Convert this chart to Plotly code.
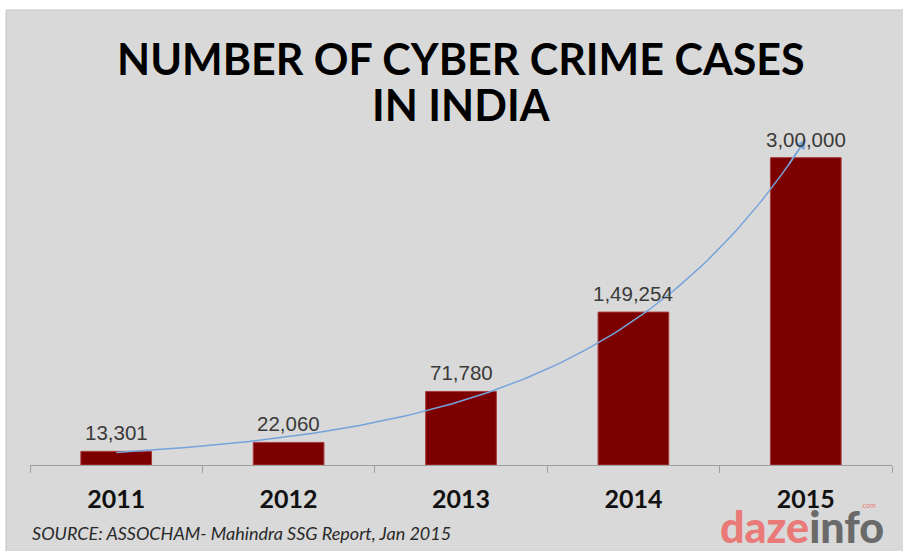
import numpy as np
import plotly.graph_objects as go

years = ["2011", "2012", "2013", "2014", "2015"]
cases = [13301, 22060, 71780, 149254, 300000]
labels = ["13,301", "22,060", "71,780", "1,49,254", "3,00,000"]
title_lines = ["NUMBER OF CYBER CRIME CASES", "IN INDIA"]
source = "SOURCE: ASSOCHAM- Mahindra SSG Report, Jan 2015"

W, H = 903, 551
L, R, T, B = 30, 11, 130, 86
pw, ph = W - L - R, H - T - B
YMAX = 327000

# exponential trendline fitted to the data
idx = np.arange(len(cases))
slope, icpt = np.polyfit(idx, np.log(cases), 1)
tx = np.linspace(0, 4, 120)
ty = np.exp(icpt + slope * tx)

fig = go.Figure()
fig.add_trace(go.Bar(
    x=years, y=cases, width=0.41,
    marker=dict(color="#7d0000", line=dict(color="#a83a3a", width=1)),
    hoverinfo="skip",
))
fig.add_trace(go.Scatter(
    x=tx, y=ty, xaxis="x2", mode="lines",
    line=dict(color="#74a3db", width=1.5), hoverinfo="skip",
))

ann = []
# arrowhead at the end of the trendline
ann.append(dict(x=float(tx[-1]), y=float(ty[-1]), xref="x2", yref="y",
                ax=float(tx[-4]), ay=float(ty[-4]), axref="x2", ayref="y",
                showarrow=True, arrowhead=2, arrowsize=1.3, arrowwidth=1.5,
                arrowcolor="#74a3db", text=""))
for i, v, lab in zip(idx, cases, labels):
    ann.append(dict(x=int(i), y=v, xref="x2", yref="y", text=lab, showarrow=False,
                    yanchor="bottom", yshift=5,
                    font=dict(family="Liberation Sans", size=20.5, color="#3a3a3a")))

def py(pix):
    return (H - B - pix) / ph

def px(pix):
    return (pix - L) / pw

ann.append(dict(x=0.5, y=py(58), xref="paper", yref="paper", text=title_lines[0],
                showarrow=False, yanchor="middle",
                font=dict(family="Lato", size=43, color="#000000", weight=700)))
ann.append(dict(x=0.5, y=py(104), xref="paper", yref="paper", text=title_lines[1],
                showarrow=False, yanchor="middle",
                font=dict(family="Lato", size=43, color="#000000", weight=700)))
ann.append(dict(x=px(30), y=py(533), xref="paper", yref="paper",
                text="<i>" + source + "</i>", showarrow=False, xanchor="left",
                yanchor="middle", font=dict(family="Lato", size=18, color="#2a2a2a")))
ann.append(dict(x=px(885), y=py(526), xref="paper", yref="paper",
                text="<span style='color:#e97a78'>daz</span><span style='color:#e97a78'>e</span><span style='color:#6a6a6a'>info</span>",
                showarrow=False, xanchor="right", yanchor="middle", borderpad=0,
                font=dict(family="Lato", size=43, weight=900)))
ann.append(dict(x=px(868), y=py(505), xref="paper", yref="paper", text=".com",
                showarrow=False, xanchor="center", yanchor="middle", borderpad=0,
                font=dict(family="Lato", size=7, color="#e97a78")))

fig.update_layout(
    width=W, height=H,
    margin=dict(l=L, r=R, t=T, b=B, pad=0),
    paper_bgcolor="#ffffff", plot_bgcolor="rgba(0,0,0,0)",
    showlegend=False,
    bargap=0.59,
    xaxis=dict(type="category", range=[-0.5, 4.5], showgrid=False,
               showline=True, linecolor="#a0a0a0", linewidth=1.2,
               ticks="outside", tickson="boundaries", ticklen=7, tickcolor="#a0a0a0",
               tickfont=dict(family="Lato", size=25, color="#111111", weight=700),
               ticklabelstandoff=12, fixedrange=True),
    xaxis2=dict(overlaying="x", range=[-0.5, 4.5], visible=False, fixedrange=True),
    yaxis=dict(range=[0, YMAX], visible=False, showgrid=False, fixedrange=True),
    annotations=ann,
    shapes=[dict(type="rect", xref="paper", yref="paper", layer="below",
                 x0=px(6), x1=px(W + 2), y0=py(H + 2), y1=py(10),
                 fillcolor="#d9d9d9", line=dict(color="#c6c6c6", width=1))],
)

fig.write_html("out.html", config={"displayModeBar": False},
               post_script="document.body.style.margin='0';")
